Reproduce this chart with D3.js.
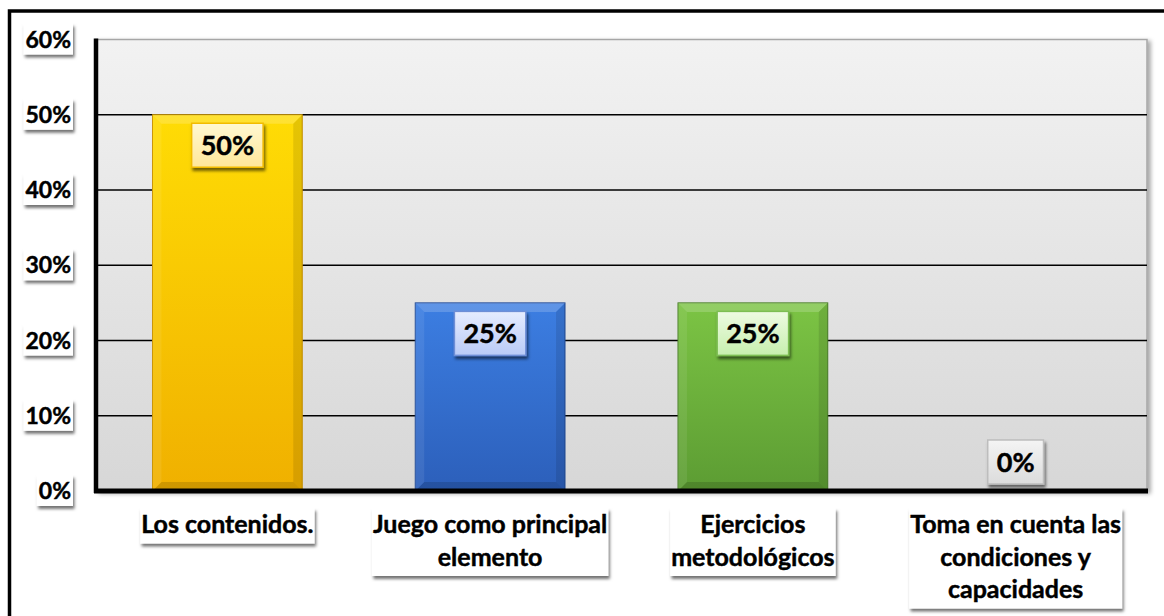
<!DOCTYPE html>
<html>
<head>
<meta charset="utf-8">
<script src="https://cdn.jsdelivr.net/npm/d3@7"></script>
<style>
  html, body { margin: 0; padding: 0; background: #fff; }
  svg { display: block; }
  text { font-family: Lato, "Open Sans", sans-serif; font-weight: 700; fill: #000; stroke: #000; stroke-width: 0.45px; }
</style>
</head>
<body>
<svg id="chart" width="1164" height="616"></svg>
<script>
// Response categories and their shares
const categories = [
  "Los contenidos.",
  "Juego como principal elemento",
  "Ejercicios metodológicos",
  "Toma en cuenta las condiciones y capacidades"
];
const categoryLines = [
  ["Los contenidos."],
  ["Juego como principal", "elemento"],
  ["Ejercicios", "metodológicos"],
  ["Toma en cuenta las", "condiciones y", "capacidades"]
];
const values = [0.50, 0.25, 0.25, 0.00];
const yTicks = [0, 0.1, 0.2, 0.3, 0.4, 0.5, 0.6];

// Colour schemes per bar: bar gradient, edge, label gradient and border
const palettes = [
  { top: "#FFDC05", bottom: "#F0B000", edge: "#C89200", lblTop: "#FFF8D2", lblBot: "#FFE79A", lblEdge: "#F2BC00" },
  { top: "#3C7EE2", bottom: "#2C5FBA", edge: "#234C96", lblTop: "#E6ECFF", lblBot: "#B9CBF7", lblEdge: "#6E8ED6" },
  { top: "#7CC444", bottom: "#5C9C33", edge: "#4A7F28", lblTop: "#EEFBE2", lblBot: "#C7EFAE", lblEdge: "#7DBE52" },
  { top: "#DADADA", bottom: "#CFCFCF", edge: "#AAAAAA", lblTop: "#F4F4F4", lblBot: "#DCDCDC", lblEdge: "#BDBDBD" }
];

const svg = d3.select("#chart");
const defs = svg.append("defs");

const plot = { left: 96, right: 1147, top: 39.5, bottom: 491 };

const x = d3.scaleBand()
  .domain(categories)
  .range([plot.left, plot.right])
  .paddingInner(0.43)
  .paddingOuter(0.215);

const y = d3.scaleLinear()
  .domain([0, 0.6])
  .range([plot.bottom, plot.top]);

const pct = d3.format(".0%");

// Drop shadow used by boxes
const shadow = defs.append("filter").attr("id", "shadow")
  .attr("x", "-20%").attr("y", "-20%").attr("width", "150%").attr("height", "160%");
shadow.append("feDropShadow")
  .attr("dx", 1.5).attr("dy", 3).attr("stdDeviation", 1.8)
  .attr("flood-color", "#000").attr("flood-opacity", 0.55);

const plotShadow = defs.append("filter").attr("id", "plotShadow")
  .attr("x", "-5%").attr("y", "-5%").attr("width", "110%").attr("height", "110%");
plotShadow.append("feDropShadow")
  .attr("dx", 3).attr("dy", 2).attr("stdDeviation", 2)
  .attr("flood-color", "#000").attr("flood-opacity", 0.35);

// Plot area background gradient
const bg = defs.append("linearGradient").attr("id", "plotBg")
  .attr("x1", 0).attr("y1", 0).attr("x2", 0).attr("y2", 1);
bg.append("stop").attr("offset", "0%").attr("stop-color", "#F2F2F2");
bg.append("stop").attr("offset", "100%").attr("stop-color", "#D7D7D7");

palettes.forEach((p, i) => {
  const g = defs.append("linearGradient").attr("id", "bar" + i)
    .attr("x1", 0).attr("y1", 0).attr("x2", 0).attr("y2", 1);
  g.append("stop").attr("offset", "0%").attr("stop-color", p.top);
  g.append("stop").attr("offset", "100%").attr("stop-color", p.bottom);
  const l = defs.append("linearGradient").attr("id", "lbl" + i)
    .attr("x1", 0).attr("y1", 0).attr("x2", 0).attr("y2", 1);
  l.append("stop").attr("offset", "0%").attr("stop-color", p.lblTop);
  l.append("stop").attr("offset", "100%").attr("stop-color", p.lblBot);
});

// Outer frame (top and left edges)
svg.append("path")
  .attr("d", "M9.5,616 V11 H1164")
  .attr("fill", "none").attr("stroke", "#000").attr("stroke-width", 3.5);

// Plot area
svg.append("rect")
  .attr("x", plot.left).attr("y", plot.top)
  .attr("width", plot.right - plot.left).attr("height", plot.bottom - plot.top)
  .attr("fill", "url(#plotBg)")
  .attr("stroke", "#A6A6A6").attr("stroke-width", 1.5)
  .attr("filter", "url(#plotShadow)");

// Horizontal gridlines
svg.append("g")
  .selectAll("line")
  .data(yTicks.filter(t => t > 0 && t < 0.6))
  .join("line")
  .attr("x1", plot.left).attr("x2", plot.right)
  .attr("y1", d => y(d)).attr("y2", d => y(d))
  .attr("stroke", "#000").attr("stroke-width", 1.5);

// Bars with a soft bevel
const bev = 9;
const bars = svg.append("g").selectAll("g")
  .data(values.map((v, i) => ({ v, i, c: categories[i] })))
  .join("g");

bars.each(function (d) {
  if (d.v <= 0) return;
  const g = d3.select(this);
  const x0 = x(d.c), w = x.bandwidth();
  const y0 = y(d.v), h = y(0) - y(d.v);
  const p = palettes[d.i];
  g.append("rect")
    .attr("x", x0).attr("y", y0).attr("width", w).attr("height", h)
    .attr("fill", "url(#bar" + d.i + ")")
    .attr("stroke", p.edge).attr("stroke-width", 1);
  // top face highlight
  g.append("path")
    .attr("d", `M${x0},${y0} H${x0 + w} L${x0 + w - bev},${y0 + bev} H${x0 + bev} Z`)
    .attr("fill", "#fff").attr("opacity", 0.18);
  // left face
  g.append("path")
    .attr("d", `M${x0},${y0} L${x0 + bev},${y0 + bev} V${y0 + h - bev} L${x0},${y0 + h} Z`)
    .attr("fill", "#fff").attr("opacity", 0.08);
  // right face
  g.append("path")
    .attr("d", `M${x0 + w},${y0} L${x0 + w - bev},${y0 + bev} V${y0 + h - bev} L${x0 + w},${y0 + h} Z`)
    .attr("fill", "#000").attr("opacity", 0.1);
  // bottom face
  g.append("path")
    .attr("d", `M${x0},${y0 + h} L${x0 + bev},${y0 + h - bev} H${x0 + w - bev} L${x0 + w},${y0 + h} Z`)
    .attr("fill", "#000").attr("opacity", 0.14);
});

// Axis lines
svg.append("line")
  .attr("x1", plot.left).attr("x2", plot.left)
  .attr("y1", plot.top - 1).attr("y2", plot.bottom + 2)
  .attr("stroke", "#000").attr("stroke-width", 4.5);
svg.append("line")
  .attr("x1", plot.left - 2).attr("x2", plot.right + 1)
  .attr("y1", plot.bottom).attr("y2", plot.bottom)
  .attr("stroke", "#000").attr("stroke-width", 5);

// Helper: text with a boxed background
function boxedText(parent, lines, cx, opts) {
  const g = parent.append("g");
  const rect = g.append("rect");
  const t = g.append("text")
    .attr("text-anchor", opts.anchor || "middle")
    .attr("font-size", opts.size);
  lines.forEach((ln, k) => {
    t.append("tspan").attr("x", cx).attr("y", opts.baseline + k * opts.lineH).text(ln);
  });
  const bb = t.node().getBBox();
  rect.attr("x", bb.x - opts.padX).attr("y", opts.boxTop)
    .attr("width", bb.width + 2 * opts.padX)
    .attr("height", opts.boxH)
    .attr("fill", opts.fill).attr("stroke", opts.stroke || "none").attr("stroke-width", opts.strokeW || 0)
    .attr("filter", "url(#shadow)");
  return g;
}

// Y-axis tick labels
const yAxisG = svg.append("g");
yTicks.forEach(t => {
  boxedText(yAxisG, [pct(t)], 71, {
    anchor: "end", size: 23, baseline: y(t) + 8, lineH: 0,
    padX: 2, boxTop: y(t) - 16, boxH: 31, fill: "#fff"
  });
});

// Category labels
const xAxisG = svg.append("g");
categories.forEach((c, i) => {
  const lines = categoryLines[i];
  const cx = x(c) + x.bandwidth() / 2;
  boxedText(xAxisG, lines, cx, {
    size: 25, baseline: 533, lineH: 32.5,
    padX: 1, boxTop: 508, boxH: lines.length * 32.5 + 3, fill: "#fff"
  });
});

// Value labels
const valG = svg.append("g");
values.forEach((v, i) => {
  const cx = x(categories[i]) + x.bandwidth() / 2;
  const top = v > 0 ? y(v) + 8.5 : y(0) - 51;
  boxedText(valG, [pct(v)], cx, {
    size: 27, baseline: top + 32, lineH: 0,
    padX: 9, boxTop: top, boxH: 44,
    fill: "url(#lbl" + i + ")", stroke: palettes[i].lblEdge, strokeW: 1.5
  });
});
</script>
</body>
</html>
